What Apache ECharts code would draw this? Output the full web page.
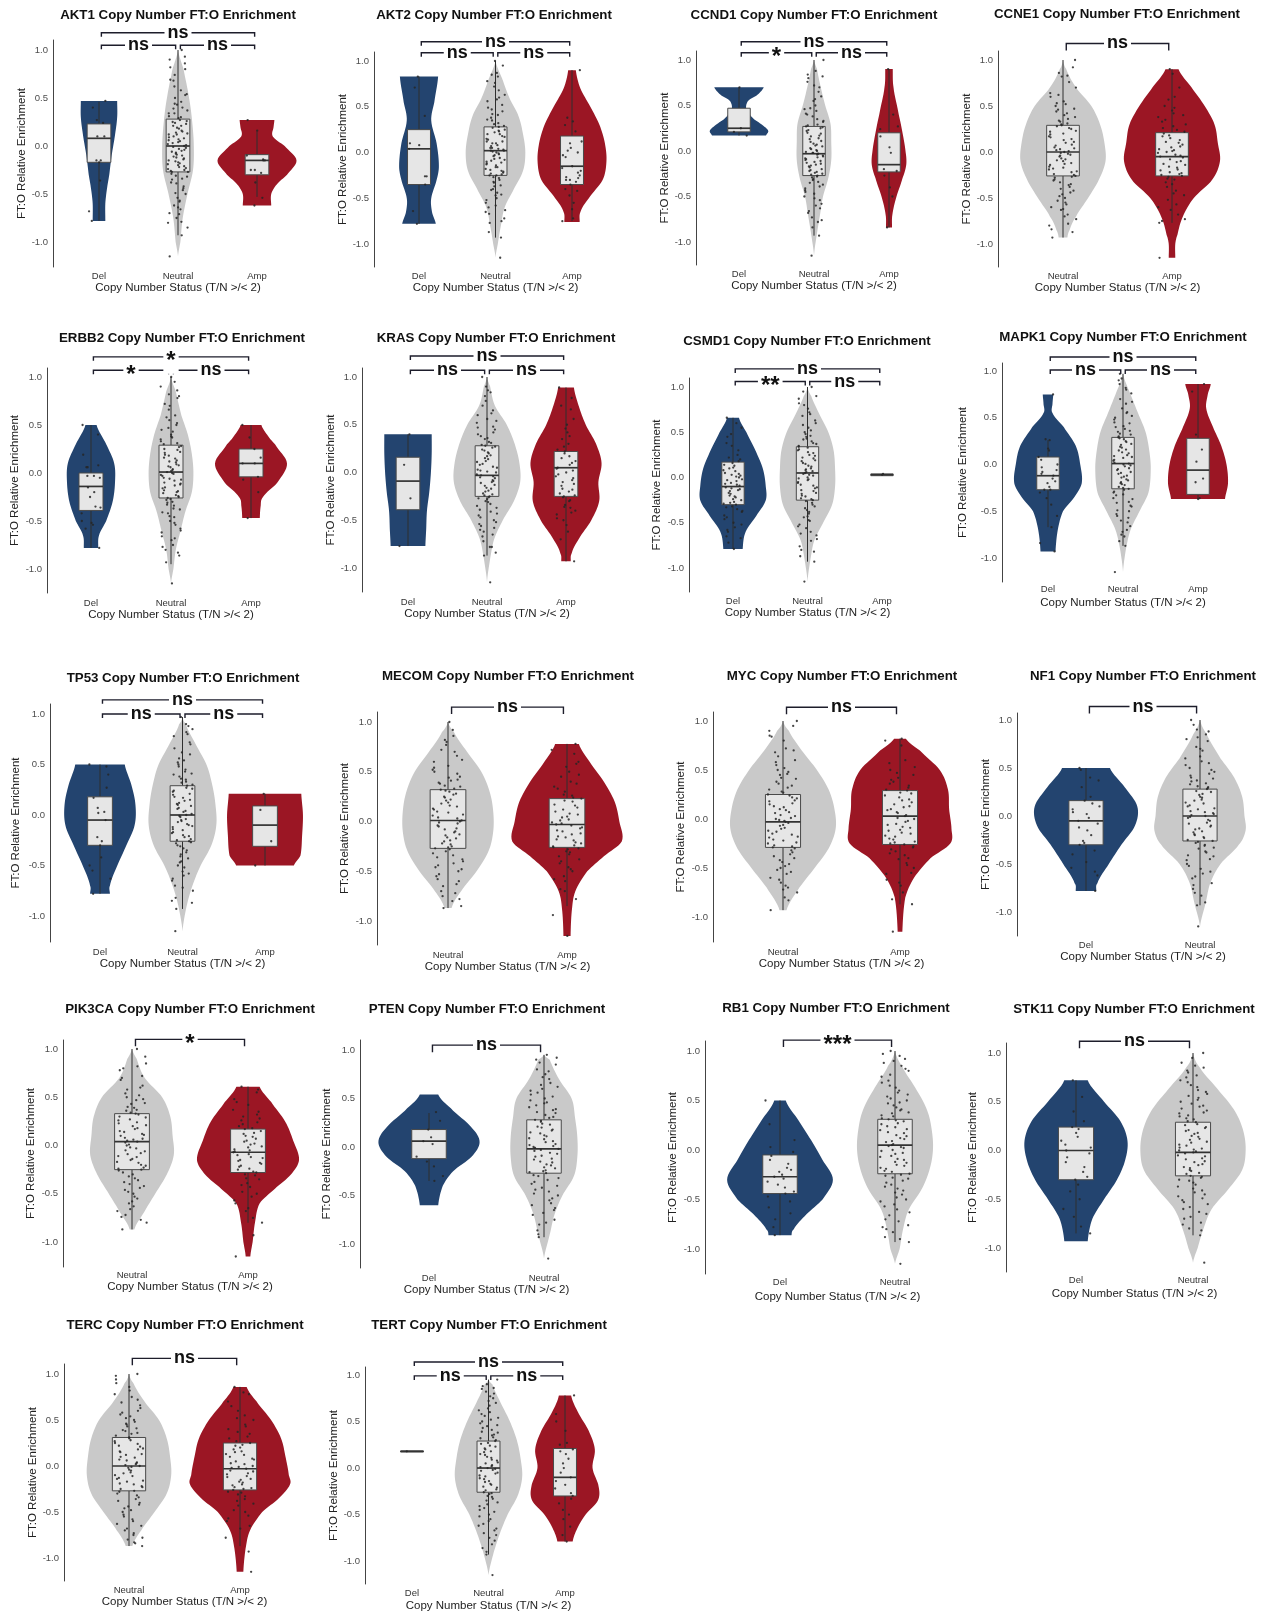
<!DOCTYPE html>
<html>
<head>
<meta charset="utf-8">
<title>FT:O Enrichment by Copy Number Status</title>
<script src="https://cdn.jsdelivr.net/npm/echarts@6/dist/echarts.min.js"></script>
<style>
html, body { margin: 0; padding: 0; background: #ffffff; }
#chart { width: 1267px; height: 1613px; }
</style>
</head>
<body>
<div id="chart"></div>
<script>
// ---------- data: groups, box stats [low, q1, median, q3, high], violin profiles [y, half-width], points, significance ----------
const akt1Groups = ['Del', 'Neutral', 'Amp'];
const akt1Box = [[-0.78, -0.17, 0.08, 0.23, 0.46], [-0.93, -0.27, 0.0, 0.28, 1.0], [-0.53, -0.3, -0.15, -0.09, 0.15]];
const akt1Violin = [
  [[-0.78, 0.08], [-0.6, 0.08], [-0.45, 0.1], [-0.3, 0.13], [-0.1, 0.16], [0.1, 0.2], [0.3, 0.23], [0.47, 0.23]],
  [[-1.15, 0], [-1.0, 0.03], [-0.75, 0.06], [-0.5, 0.12], [-0.25, 0.19], [0, 0.2], [0.25, 0.18], [0.5, 0.14], [0.8, 0.07], [1.0, 0]],
  [[-0.62, 0.18], [-0.5, 0.18], [-0.4, 0.25], [-0.3, 0.38], [-0.15, 0.5], [0.0, 0.35], [0.1, 0.2], [0.2, 0.21], [0.27, 0.22]]
];
const akt1Points = [
  [0.47, 0.4, 0.27, 0.24, 0.1, 0.1, -0.15, -0.15, -0.17, -0.36, -0.68, -0.78],
  [1.0, 0.9, 0.86, 0.82, 0.8, 0.74, 0.68, 0.62, 0.58, 0.54, 0.5, 0.46, 0.43, 0.4, 0.37, 0.34, 0.31, 0.29, 0.27, 0.25, 0.23, 0.21, 0.18, 0.16, 0.14, 0.12, 0.1, 0.08, 0.06, 0.04, 0.02, 0.0, -0.02, -0.04, -0.06, -0.08, -0.1, -0.12, -0.14, -0.16, -0.18, -0.2, -0.22, -0.24, -0.26, -0.27, -0.29, -0.32, -0.35, -0.38, -0.42, -0.46, -0.5, -0.54, -0.58, -0.62, -0.66, -0.7, -0.75, -0.79, -0.85, -0.93, -1.15,
   0.93, 0.69, 0.53, 0.44, 0.39, 0.34, 0.3, 0.26, 0.24, 0.21, 0.19, 0.15, 0.13, 0.12, 0.09, 0.07, 0.05, 0.03, 0.01, -0.01, -0.03, -0.05, -0.07, -0.09, -0.11, -0.13, -0.15, -0.17, -0.19, -0.21, -0.23, -0.25, -0.27, -0.31, -0.34, -0.39, -0.44, -0.49, -0.57, -0.64, -0.71, -0.8],
  [0.27, 0.16, -0.1, -0.14, -0.15, -0.15, -0.25, -0.25, -0.28, -0.38, -0.54, -0.62]
];
const akt1Signif = [[0, 1, 1.05, 'ns'], [1, 2, 1.05, 'ns'], [0, 2, 1.18, 'ns']];

const akt2Groups = ['Del', 'Neutral', 'Amp'];
const akt2Box = [[-0.78, -0.35, 0.04, 0.25, 0.83], [-0.93, -0.25, 0.02, 0.28, 1.0], [-0.75, -0.35, -0.15, 0.18, 0.9]];
const akt2Violin = [
  [[-0.78, 0.22], [-0.65, 0.17], [-0.5, 0.16], [-0.3, 0.23], [-0.15, 0.26], [0.1, 0.23], [0.35, 0.16], [0.55, 0.2], [0.83, 0.25]],
  [[-1.15, 0], [-1.0, 0.03], [-0.8, 0.07], [-0.6, 0.12], [-0.4, 0.24], [-0.2, 0.36], [0, 0.39], [0.2, 0.36], [0.4, 0.3], [0.6, 0.18], [0.8, 0.09], [1.0, 0]],
  [[-0.76, 0.1], [-0.65, 0.11], [-0.5, 0.22], [-0.3, 0.4], [-0.1, 0.45], [0.1, 0.43], [0.3, 0.36], [0.5, 0.24], [0.7, 0.11], [0.9, 0.05]]
];
const akt2Points = [
  [0.83, 0.71, 0.4, 0.1, 0.08, 0.04, -0.26, -0.26, -0.35, -0.64, -0.78],
  [1.0, 0.87, 0.85, 0.83, 0.78, 0.72, 0.68, 0.63, 0.6, 0.56, 0.52, 0.49, 0.45, 0.42, 0.38, 0.35, 0.32, 0.29, 0.27, 0.24, 0.22, 0.2, 0.17, 0.15, 0.12, 0.1, 0.08, 0.05, 0.03, 0.02, 0.0, -0.02, -0.04, -0.07, -0.09, -0.11, -0.13, -0.16, -0.18, -0.2, -0.22, -0.24, -0.25, -0.27, -0.3, -0.33, -0.36, -0.4, -0.44, -0.47, -0.5, -0.55, -0.6, -0.63, -0.67, -0.72, -0.77, -0.87, -0.93, -1.15,
   0.95, 0.76, 0.58, 0.47, 0.41, 0.36, 0.31, 0.28, 0.25, 0.23, 0.2, 0.18, 0.14, 0.12, 0.1, 0.07, 0.05, 0.04, 0.02, 0.01, -0.01, -0.03, -0.06, -0.08, -0.1, -0.12, -0.14, -0.16, -0.19, -0.21, -0.23, -0.25, -0.28, -0.32, -0.37, -0.41, -0.46, -0.52, -0.58, -0.65, -0.75],
  [0.9, 0.38, 0.34, 0.23, 0.1, 0.05, 0.02, 0.0, -0.03, -0.15, -0.17, -0.22, -0.25, -0.28, -0.3, -0.3, -0.32, -0.35, -0.42, -0.47, -0.55, -0.62, -0.72, -0.75, 0.3, 0.12, -0.05, -0.2, -0.27, -0.4]
];
const akt2Signif = [[0, 1, 1.09, 'ns'], [1, 2, 1.09, 'ns'], [0, 2, 1.21, 'ns']];

const ccnd1Groups = ['Del', 'Neutral', 'Amp'];
const ccnd1Box = [[0.17, 0.21, 0.25, 0.47, 0.7], [-0.93, -0.27, -0.03, 0.27, 1.0], [-0.84, -0.23, -0.15, 0.2, 0.9]];
const ccnd1Violin = [
  [[0.17, 0.36], [0.22, 0.39], [0.28, 0.32], [0.35, 0.2], [0.45, 0.1], [0.55, 0.12], [0.62, 0.25], [0.7, 0.33]],
  [[-1.15, 0], [-0.9, 0.04], [-0.7, 0.08], [-0.5, 0.12], [-0.3, 0.19], [-0.1, 0.23], [0.1, 0.23], [0.3, 0.22], [0.5, 0.15], [0.7, 0.09], [0.9, 0.04], [1.0, 0]],
  [[-0.84, 0.04], [-0.7, 0.045], [-0.5, 0.1], [-0.3, 0.18], [-0.15, 0.23], [0.0, 0.22], [0.2, 0.18], [0.4, 0.13], [0.7, 0.06], [0.9, 0.05]]
];
const ccnd1Points = [
  [0.7, 0.25, 0.21, 0.17],
  [1.0, 0.84, 0.82, 0.8, 0.76, 0.7, 0.65, 0.6, 0.55, 0.5, 0.47, 0.44, 0.41, 0.38, 0.35, 0.32, 0.29, 0.27, 0.25, 0.22, 0.19, 0.16, 0.13, 0.1, 0.07, 0.05, 0.02, 0.0, -0.02, -0.03, -0.05, -0.08, -0.1, -0.12, -0.15, -0.17, -0.2, -0.22, -0.24, -0.27, -0.29, -0.32, -0.35, -0.39, -0.43, -0.47, -0.5, -0.54, -0.58, -0.63, -0.68, -0.73, -0.78, -0.84, -0.93, -1.15,
   0.88, 0.72, 0.57, 0.46, 0.4, 0.33, 0.28, 0.26, 0.23, 0.2, 0.17, 0.14, 0.11, 0.08, 0.06, 0.03, 0.01, -0.01, -0.02, -0.04, -0.06, -0.07, -0.09, -0.11, -0.13, -0.14, -0.16, -0.18, -0.21, -0.23, -0.25, -0.26, -0.28, -0.31, -0.34, -0.37, -0.41, -0.45, -0.52, -0.6, -0.66, -0.76],
  [0.9, 0.4, 0.27, 0.24, 0.16, 0.04, -0.02, -0.2, -0.22, -0.27, -0.4, -0.5, -0.84]
];
const ccnd1Signif = [[0, 1, 1.08, '*'], [1, 2, 1.08, 'ns'], [0, 2, 1.2, 'ns']];

const ccne1Groups = ['Neutral', 'Amp'];
const ccne1Box = [[-0.93, -0.26, 0.0, 0.29, 1.0], [-0.77, -0.26, -0.05, 0.21, 0.9]];
const ccne1Violin = [
  [[-0.93, 0.04], [-0.85, 0.06], [-0.7, 0.12], [-0.5, 0.23], [-0.3, 0.33], [-0.1, 0.39], [0.1, 0.38], [0.3, 0.34], [0.5, 0.26], [0.7, 0.12], [0.9, 0.03], [1.0, 0]],
  [[-1.15, 0.03], [-1.0, 0.03], [-0.9, 0.05], [-0.7, 0.1], [-0.5, 0.2], [-0.3, 0.37], [-0.1, 0.44], [0.1, 0.42], [0.3, 0.39], [0.5, 0.3], [0.7, 0.18], [0.9, 0.06]]
];
const ccne1Points = [
  [1.0, 0.86, 0.83, 0.82, 0.76, 0.7, 0.64, 0.6, 0.55, 0.52, 0.5, 0.47, 0.44, 0.4, 0.36, 0.33, 0.3, 0.28, 0.25, 0.22, 0.2, 0.17, 0.14, 0.11, 0.08, 0.05, 0.03, 0.01, -0.01, -0.03, -0.05, -0.08, -0.1, -0.13, -0.16, -0.18, -0.21, -0.24, -0.26, -0.28, -0.31, -0.35, -0.38, -0.42, -0.46, -0.5, -0.53, -0.57, -0.6, -0.63, -0.68, -0.73, -0.78, -0.84, -0.87, -0.93,
   0.92, 0.62, 0.53, 0.46, 0.42, 0.38, 0.34, 0.31, 0.29, 0.26, 0.23, 0.19, 0.16, 0.13, 0.1, 0.07, 0.04, 0.02, 0.0, -0.02, -0.04, -0.07, -0.09, -0.12, -0.14, -0.17, -0.19, -0.22, -0.25, -0.27, -0.3, -0.33, -0.36, -0.4, -0.44, -0.48, -0.55, -0.62, -0.7, -0.8],
  [0.9, 0.7, 0.57, 0.48, 0.45, 0.42, 0.38, 0.33, 0.3, 0.26, 0.22, 0.2, 0.17, 0.13, 0.1, 0.08, 0.05, 0.02, 0.0, -0.03, -0.05, -0.08, -0.11, -0.14, -0.17, -0.2, -0.23, -0.25, -0.26, -0.29, -0.33, -0.38, -0.42, -0.47, -0.52, -0.57, -0.63, -0.68, -0.73, -0.77, -1.15,
   0.85, 0.6, 0.5, 0.4, 0.35, 0.28, 0.24, 0.18, 0.15, 0.11, 0.06, 0.03, 0.01, -0.01, -0.04, -0.06, -0.1, -0.13, -0.16, -0.19, -0.22, -0.24, -0.27, -0.3, -0.35, -0.45, -0.6, -0.75]
];
const ccne1Signif = [[0, 1, 1.18, 'ns']];

const erbb2Groups = ['Del', 'Neutral', 'Amp'];
const erbb2Box = [[-0.78, -0.39, -0.14, 0.0, 0.5], [-0.95, -0.26, 0.01, 0.29, 1.0], [-0.47, -0.04, 0.1, 0.25, 0.5]];
const erbb2Violin = [
  [[-0.78, 0.09], [-0.65, 0.1], [-0.5, 0.19], [-0.3, 0.27], [-0.1, 0.3], [0.1, 0.29], [0.3, 0.19], [0.5, 0.07]],
  [[-1.15, 0], [-1.0, 0.03], [-0.8, 0.06], [-0.6, 0.12], [-0.4, 0.18], [-0.2, 0.26], [0, 0.28], [0.2, 0.26], [0.4, 0.21], [0.6, 0.13], [0.85, 0.06], [1.0, 0]],
  [[-0.47, 0.11], [-0.35, 0.12], [-0.25, 0.15], [-0.1, 0.33], [0.1, 0.45], [0.3, 0.3], [0.4, 0.2], [0.5, 0.13]]
];
const erbb2Points = [
  [0.5, 0.4, 0.19, 0.08, 0.06, 0.06, -0.03, -0.03, -0.05, -0.15, -0.2, -0.25, -0.35, -0.36, -0.42, -0.5, -0.52, -0.54, -0.58, -0.78],
  [1.0, 0.9, 0.86, 0.8, 0.78, 0.72, 0.66, 0.6, 0.55, 0.5, 0.47, 0.43, 0.4, 0.37, 0.33, 0.3, 0.28, 0.25, 0.22, 0.19, 0.16, 0.13, 0.11, 0.08, 0.06, 0.03, 0.01, -0.01, -0.03, -0.06, -0.08, -0.11, -0.13, -0.16, -0.19, -0.21, -0.24, -0.26, -0.28, -0.31, -0.34, -0.38, -0.42, -0.46, -0.5, -0.54, -0.58, -0.62, -0.66, -0.7, -0.75, -0.8, -0.86, -0.93, -1.15,
   0.95, 0.82, 0.7, 0.58, 0.52, 0.45, 0.38, 0.35, 0.31, 0.27, 0.24, 0.21, 0.18, 0.15, 0.12, 0.09, 0.07, 0.04, 0.02, 0.0, -0.02, -0.05, -0.07, -0.1, -0.12, -0.15, -0.18, -0.2, -0.23, -0.25, -0.27, -0.3, -0.33, -0.37, -0.41, -0.45, -0.52, -0.6, -0.68, -0.77, -0.83],
  [0.5, 0.37, 0.25, 0.16, 0.1, 0.1, -0.04, -0.07, -0.2, -0.47]
];
const erbb2Signif = [[0, 1, 1.07, '*'], [1, 2, 1.07, 'ns'], [0, 2, 1.21, '*']];

const krasGroups = ['Del', 'Neutral', 'Amp'];
const krasBox = [[-0.77, -0.39, -0.09, 0.16, 0.4], [-0.87, -0.25, -0.03, 0.28, 1.0], [-0.93, -0.25, 0.05, 0.22, 0.89]];
const krasViolin = [
  [[-0.77, 0.22], [-0.6, 0.23], [-0.4, 0.24], [-0.2, 0.27], [0.0, 0.29], [0.2, 0.3], [0.4, 0.3]],
  [[-1.15, 0], [-0.9, 0.04], [-0.7, 0.09], [-0.5, 0.2], [-0.3, 0.34], [-0.1, 0.42], [0.1, 0.41], [0.3, 0.35], [0.5, 0.25], [0.7, 0.1], [0.9, 0.04], [1.0, 0]],
  [[-0.93, 0.06], [-0.85, 0.07], [-0.7, 0.16], [-0.5, 0.32], [-0.3, 0.42], [-0.1, 0.41], [0.1, 0.45], [0.3, 0.38], [0.5, 0.25], [0.7, 0.16], [0.89, 0.1]]
];
const krasPoints = [
  [0.4, 0.08, -0.27, -0.77],
  [1.0, 0.86, 0.84, 0.8, 0.75, 0.7, 0.65, 0.6, 0.56, 0.52, 0.48, 0.45, 0.42, 0.38, 0.35, 0.31, 0.28, 0.26, 0.23, 0.2, 0.17, 0.14, 0.11, 0.08, 0.05, 0.02, 0.0, -0.03, -0.05, -0.08, -0.1, -0.13, -0.16, -0.19, -0.22, -0.25, -0.27, -0.3, -0.33, -0.37, -0.41, -0.45, -0.5, -0.54, -0.58, -0.62, -0.67, -0.72, -0.78, -0.84, -0.87, -1.15,
   0.9, 0.62, 0.54, 0.47, 0.4, 0.36, 0.32, 0.29, 0.27, 0.24, 0.21, 0.18, 0.15, 0.12, 0.09, 0.06, 0.03, 0.01, -0.02, -0.04, -0.06, -0.09, -0.11, -0.14, -0.17, -0.2, -0.23, -0.24, -0.26, -0.28, -0.31, -0.35, -0.39, -0.43, -0.47, -0.52, -0.56, -0.6, -0.65, -0.78],
  [0.89, 0.78, 0.66, 0.56, 0.46, 0.42, 0.35, 0.3, 0.24, 0.2, 0.17, 0.12, 0.08, 0.05, 0.02, -0.02, -0.06, -0.1, -0.14, -0.17, -0.2, -0.24, -0.26, -0.3, -0.34, -0.37, -0.4, -0.44, -0.48, -0.55, -0.62, -0.7, -0.93,
   0.7, 0.5, 0.38, 0.27, 0.22, 0.15, 0.1, 0.04, 0.0, -0.04, -0.08, -0.12, -0.18, -0.22, -0.25, -0.29, -0.36, -0.42, -0.5]
];
const krasSignif = [[0, 1, 1.07, 'ns'], [1, 2, 1.07, 'ns'], [0, 2, 1.22, 'ns']];

const csmd1Groups = ['Del', 'Neutral', 'Amp'];
const csmd1Box = [[-0.79, -0.3, -0.1, 0.17, 0.66], [-0.93, -0.25, 0.05, 0.34, 1.0], [0.02, 0.02, 0.03, 0.04, 0.04]];
const csmd1Violin = [
  [[-0.79, 0.13], [-0.6, 0.17], [-0.4, 0.33], [-0.25, 0.44], [-0.1, 0.44], [0.1, 0.4], [0.3, 0.3], [0.5, 0.18], [0.66, 0.08]],
  [[-1.15, 0], [-0.9, 0.04], [-0.7, 0.09], [-0.5, 0.21], [-0.3, 0.33], [-0.1, 0.37], [0.1, 0.37], [0.3, 0.35], [0.5, 0.28], [0.7, 0.16], [0.9, 0.05], [1.0, 0]],
  []
];
const csmd1Points = [
  [0.66, 0.55, 0.45, 0.38, 0.3, 0.25, 0.2, 0.16, 0.13, 0.1, 0.07, 0.05, 0.03, 0.01, -0.02, -0.04, -0.07, -0.09, -0.11, -0.13, -0.15, -0.17, -0.2, -0.22, -0.25, -0.28, -0.3, -0.32, -0.35, -0.38, -0.42, -0.46, -0.5, -0.55, -0.6, -0.67, -0.72, -0.79,
   0.6, 0.48, 0.35, 0.22, 0.18, 0.14, 0.11, 0.08, 0.04, 0.02, 0.0, -0.03, -0.06, -0.08, -0.12, -0.14, -0.18, -0.21, -0.24, -0.27, -0.29, -0.33, -0.37, -0.44, -0.52, -0.58, -0.65],
  [1.0, 0.9, 0.87, 0.82, 0.76, 0.72, 0.68, 0.63, 0.58, 0.55, 0.52, 0.48, 0.45, 0.42, 0.38, 0.35, 0.33, 0.3, 0.27, 0.24, 0.21, 0.18, 0.15, 0.12, 0.09, 0.07, 0.05, 0.03, 0.0, -0.02, -0.05, -0.08, -0.11, -0.14, -0.17, -0.2, -0.23, -0.25, -0.28, -0.32, -0.36, -0.4, -0.44, -0.48, -0.52, -0.56, -0.6, -0.64, -0.7, -0.76, -0.82, -0.87, -0.93, -1.15,
   0.95, 0.8, 0.7, 0.6, 0.5, 0.46, 0.43, 0.4, 0.37, 0.34, 0.31, 0.28, 0.25, 0.22, 0.19, 0.16, 0.13, 0.1, 0.08, 0.06, 0.04, 0.02, -0.01, -0.03, -0.06, -0.09, -0.12, -0.15, -0.18, -0.21, -0.24, -0.26, -0.3, -0.34, -0.38, -0.43, -0.47, -0.54, -0.62, -0.68, -0.8],
  [0.03, 0.04]
];
const csmd1Signif = [[0, 1, 1.06, '**'], [1, 2, 1.06, 'ns'], [0, 2, 1.2, 'ns']];

const mapk1Groups = ['Del', 'Neutral', 'Amp'];
const mapk1Box = [[-0.67, -0.27, -0.12, 0.08, 0.26], [-0.87, -0.26, 0.01, 0.29, 0.97], [-0.37, -0.32, -0.06, 0.28, 0.86]];
const mapk1Violin = [
  [[-0.93, 0.1], [-0.7, 0.13], [-0.5, 0.2], [-0.35, 0.35], [-0.2, 0.45], [0.0, 0.43], [0.2, 0.37], [0.4, 0.21], [0.55, 0.06], [0.65, 0.06], [0.75, 0.07]],
  [[-1.15, 0], [-0.9, 0.04], [-0.7, 0.1], [-0.5, 0.22], [-0.3, 0.34], [-0.05, 0.37], [0.15, 0.35], [0.35, 0.3], [0.55, 0.2], [0.75, 0.1], [0.97, 0]],
  [[-0.37, 0.36], [-0.2, 0.4], [0.0, 0.38], [0.2, 0.31], [0.4, 0.2], [0.6, 0.11], [0.75, 0.13], [0.86, 0.17]]
];
const mapk1Points = [
  [0.75, 0.27, 0.26, 0.17, 0.15, 0.08, 0.05, 0.0, -0.03, -0.06, -0.08, -0.1, -0.12, -0.15, -0.18, -0.2, -0.24, -0.27, -0.27, -0.3, -0.36, -0.43, -0.55, -0.67, -0.84, -0.93],
  [0.97, 0.9, 0.86, 0.82, 0.76, 0.7, 0.65, 0.6, 0.56, 0.52, 0.48, 0.45, 0.41, 0.38, 0.35, 0.32, 0.29, 0.27, 0.24, 0.21, 0.18, 0.15, 0.12, 0.09, 0.07, 0.04, 0.01, -0.01, -0.04, -0.06, -0.09, -0.12, -0.14, -0.17, -0.2, -0.22, -0.25, -0.27, -0.3, -0.33, -0.37, -0.41, -0.45, -0.49, -0.53, -0.57, -0.62, -0.66, -0.72, -0.77, -0.82, -0.87, -1.15,
   0.92, 0.8, 0.67, 0.55, 0.5, 0.44, 0.4, 0.36, 0.33, 0.3, 0.28, 0.25, 0.22, 0.19, 0.16, 0.13, 0.1, 0.08, 0.05, 0.02, 0.0, -0.02, -0.05, -0.08, -0.1, -0.13, -0.16, -0.19, -0.21, -0.24, -0.26, -0.29, -0.32, -0.36, -0.4, -0.44, -0.5, -0.55, -0.6, -0.7, -0.75],
  [0.86, 0.78, 0.32, 0.16, 0.03, -0.15, -0.19, -0.36, -0.37]
];
const mapk1Signif = [[0, 1, 1.01, 'ns'], [1, 2, 1.01, 'ns'], [0, 2, 1.15, 'ns']];

const tp53Groups = ['Del', 'Neutral', 'Amp'];
const tp53Box = [[-0.78, -0.3, -0.05, 0.18, 0.5], [-0.93, -0.26, 0.0, 0.29, 0.97], [-0.5, -0.31, -0.1, 0.09, 0.21]];
const tp53Violin = [
  [[-0.78, 0.12], [-0.7, 0.12], [-0.5, 0.21], [-0.3, 0.32], [-0.1, 0.42], [0.1, 0.43], [0.3, 0.38], [0.5, 0.3]],
  [[-1.15, 0], [-0.9, 0.05], [-0.7, 0.12], [-0.5, 0.22], [-0.3, 0.35], [-0.1, 0.41], [0.1, 0.4], [0.3, 0.36], [0.5, 0.29], [0.7, 0.16], [0.9, 0.04], [0.97, 0]],
  [[-0.5, 0.35], [-0.4, 0.43], [-0.2, 0.45], [0.0, 0.46], [0.21, 0.44]]
];
const tp53Points = [
  [0.5, 0.48, 0.4, 0.27, 0.17, 0.07, 0.03, 0.02, -0.05, -0.22, -0.26, -0.3, -0.42, -0.5, -0.55, -0.63, -0.78],
  [0.97, 0.9, 0.85, 0.82, 0.78, 0.72, 0.66, 0.6, 0.56, 0.52, 0.48, 0.45, 0.41, 0.38, 0.35, 0.32, 0.29, 0.26, 0.23, 0.2, 0.17, 0.14, 0.11, 0.09, 0.06, 0.03, 0.0, -0.02, -0.05, -0.07, -0.1, -0.12, -0.15, -0.18, -0.21, -0.24, -0.26, -0.28, -0.31, -0.35, -0.39, -0.43, -0.47, -0.52, -0.56, -0.6, -0.65, -0.7, -0.75, -0.82, -0.87, -0.93, -1.15,
   0.88, 0.8, 0.7, 0.62, 0.54, 0.5, 0.43, 0.4, 0.36, 0.33, 0.3, 0.27, 0.24, 0.21, 0.18, 0.15, 0.12, 0.1, 0.07, 0.04, 0.01, -0.01, -0.04, -0.06, -0.09, -0.11, -0.14, -0.17, -0.2, -0.22, -0.25, -0.27, -0.3, -0.33, -0.37, -0.41, -0.46, -0.5, -0.58, -0.63, -0.72, -0.85],
  [0.21, 0.05, -0.26, -0.5]
];
const tp53Signif = [[0, 1, 1.0, 'ns'], [1, 2, 1.0, 'ns'], [0, 2, 1.14, 'ns']];

const mecomGroups = ['Neutral', 'Amp'];
const mecomBox = [[-0.87, -0.27, 0.01, 0.32, 1.0], [-0.85, -0.26, -0.03, 0.23, 0.78]];
const mecomViolin = [
  [[-0.87, 0.03], [-0.7, 0.11], [-0.5, 0.24], [-0.3, 0.34], [-0.1, 0.38], [0.1, 0.38], [0.3, 0.35], [0.5, 0.28], [0.7, 0.16], [0.9, 0.05], [1.0, 0]],
  [[-1.15, 0.03], [-0.9, 0.04], [-0.7, 0.07], [-0.5, 0.17], [-0.35, 0.31], [-0.2, 0.46], [0.0, 0.44], [0.2, 0.4], [0.4, 0.31], [0.6, 0.19], [0.78, 0.1]]
];
const mecomPoints = [
  [1.0, 0.86, 0.82, 0.77, 0.72, 0.66, 0.6, 0.56, 0.52, 0.48, 0.45, 0.42, 0.39, 0.36, 0.33, 0.31, 0.28, 0.25, 0.22, 0.19, 0.16, 0.13, 0.1, 0.07, 0.04, 0.01, -0.01, -0.04, -0.07, -0.1, -0.13, -0.16, -0.19, -0.22, -0.25, -0.27, -0.3, -0.34, -0.38, -0.42, -0.46, -0.5, -0.55, -0.6, -0.65, -0.7, -0.75, -0.8, -0.85, -0.87,
   0.92, 0.8, 0.7, 0.62, 0.54, 0.5, 0.44, 0.41, 0.38, 0.35, 0.32, 0.3, 0.27, 0.24, 0.21, 0.18, 0.15, 0.12, 0.09, 0.06, 0.03, 0.0, -0.02, -0.05, -0.08, -0.11, -0.14, -0.17, -0.2, -0.23, -0.26, -0.28, -0.32, -0.36, -0.4, -0.44, -0.48, -0.53, -0.58, -0.63, -0.72, -0.78],
  [0.78, 0.68, 0.6, 0.55, 0.5, 0.45, 0.4, 0.35, 0.3, 0.26, 0.23, 0.2, 0.17, 0.14, 0.1, 0.07, 0.04, 0.01, -0.02, -0.04, -0.07, -0.1, -0.13, -0.16, -0.19, -0.22, -0.25, -0.26, -0.28, -0.31, -0.35, -0.38, -0.42, -0.46, -0.5, -0.55, -0.6, -0.68, -0.78, -0.94, -1.15,
   0.72, 0.58, 0.47, 0.38, 0.33, 0.27, 0.24, 0.21, 0.16, 0.12, 0.08, 0.05, 0.02, -0.01, -0.03, -0.06, -0.09, -0.12, -0.15, -0.18, -0.21, -0.24, -0.27, -0.3, -0.33, -0.4, -0.48, -0.58, -0.7]
];
const mecomSignif = [[0, 1, 1.15, 'ns']];

const mycGroups = ['Neutral', 'Amp'];
const mycBox = [[-0.93, -0.29, -0.03, 0.25, 1.0], [-0.87, -0.26, 0.03, 0.29, 0.82]];
const mycViolin = [
  [[-0.93, 0.03], [-0.7, 0.14], [-0.5, 0.27], [-0.3, 0.39], [-0.1, 0.45], [0.1, 0.44], [0.3, 0.39], [0.5, 0.29], [0.7, 0.16], [0.9, 0.05], [1.0, 0]],
  [[-1.15, 0.02], [-0.8, 0.045], [-0.6, 0.12], [-0.4, 0.26], [-0.25, 0.43], [-0.1, 0.44], [0.1, 0.42], [0.3, 0.41], [0.5, 0.34], [0.7, 0.17], [0.82, 0.05]]
];
const mycPoints = [
  [1.0, 0.9, 0.85, 0.8, 0.72, 0.68, 0.6, 0.58, 0.52, 0.48, 0.45, 0.42, 0.38, 0.34, 0.3, 0.27, 0.25, 0.22, 0.19, 0.16, 0.13, 0.1, 0.07, 0.04, 0.01, -0.01, -0.03, -0.06, -0.09, -0.12, -0.15, -0.18, -0.21, -0.24, -0.27, -0.29, -0.32, -0.36, -0.4, -0.44, -0.48, -0.52, -0.56, -0.6, -0.65, -0.7, -0.75, -0.83, -0.93,
   0.95, 0.84, 0.7, 0.64, 0.55, 0.5, 0.46, 0.41, 0.36, 0.32, 0.28, 0.24, 0.21, 0.18, 0.15, 0.12, 0.09, 0.06, 0.03, 0.0, -0.02, -0.04, -0.07, -0.1, -0.13, -0.16, -0.19, -0.22, -0.25, -0.28, -0.3, -0.34, -0.38, -0.42, -0.46, -0.5, -0.54, -0.62, -0.68, -0.72, -0.8],
  [0.82, 0.8, 0.57, 0.53, 0.5, 0.45, 0.4, 0.36, 0.32, 0.29, 0.26, 0.22, 0.19, 0.15, 0.12, 0.09, 0.06, 0.03, 0.0, -0.03, -0.06, -0.09, -0.12, -0.15, -0.18, -0.21, -0.24, -0.26, -0.29, -0.33, -0.37, -0.41, -0.45, -0.5, -0.56, -0.62, -0.68, -0.75, -0.82, -0.87, -1.15,
   0.75, 0.6, 0.47, 0.42, 0.38, 0.34, 0.3, 0.27, 0.24, 0.2, 0.17, 0.13, 0.1, 0.07, 0.04, 0.01, -0.02, -0.05, -0.08, -0.11, -0.14, -0.17, -0.2, -0.23, -0.25, -0.28, -0.31, -0.35, -0.4, -0.47, -0.55, -0.65]
];
const mycSignif = [[0, 1, 1.14, 'ns']];

const nf1Groups = ['Del', 'Neutral'];
const nf1Box = [[-0.78, -0.3, -0.05, 0.16, 0.5], [-0.93, -0.26, 0.0, 0.28, 1.0]];
const nf1Violin = [
  [[-0.78, 0.09], [-0.7, 0.1], [-0.5, 0.2], [-0.3, 0.31], [-0.1, 0.43], [0.1, 0.45], [0.3, 0.34], [0.5, 0.21]],
  [[-1.15, 0], [-0.9, 0.05], [-0.7, 0.09], [-0.5, 0.18], [-0.3, 0.34], [-0.15, 0.4], [0.0, 0.39], [0.2, 0.37], [0.4, 0.3], [0.6, 0.18], [0.85, 0.06], [1.0, 0]]
];
const nf1Points = [
  [0.5, 0.48, 0.4, 0.37, 0.3, 0.2, 0.16, 0.13, 0.1, 0.07, 0.04, 0.02, -0.02, -0.05, -0.08, -0.12, -0.15, -0.2, -0.26, -0.28, -0.3, -0.36, -0.4, -0.48, -0.54, -0.58, -0.62, -0.78],
  [1.0, 0.9, 0.85, 0.82, 0.78, 0.72, 0.68, 0.62, 0.57, 0.53, 0.5, 0.46, 0.42, 0.39, 0.36, 0.33, 0.3, 0.28, 0.25, 0.22, 0.19, 0.16, 0.13, 0.1, 0.07, 0.04, 0.02, 0.0, -0.02, -0.05, -0.08, -0.11, -0.14, -0.17, -0.2, -0.23, -0.26, -0.28, -0.31, -0.34, -0.38, -0.42, -0.46, -0.5, -0.55, -0.6, -0.65, -0.7, -0.76, -0.83, -0.9, -0.93, -1.15,
   0.95, 0.88, 0.8, 0.7, 0.6, 0.55, 0.48, 0.44, 0.4, 0.37, 0.34, 0.31, 0.29, 0.26, 0.23, 0.2, 0.17, 0.14, 0.11, 0.08, 0.05, 0.03, 0.01, -0.01, -0.04, -0.07, -0.1, -0.13, -0.16, -0.19, -0.22, -0.25, -0.27, -0.3, -0.33, -0.37, -0.41, -0.45, -0.52, -0.58, -0.63, -0.72, -0.8]
];
const nf1Signif = [[0, 1, 1.14, 'ns']];

const pik3caGroups = ['Neutral', 'Amp'];
const pik3caBox = [[-0.87, -0.25, 0.04, 0.33, 1.0], [-0.8, -0.28, -0.07, 0.17, 0.61]];
const pik3caViolin = [
  [[-0.87, 0.02], [-0.7, 0.1], [-0.5, 0.2], [-0.3, 0.3], [-0.1, 0.36], [0.1, 0.35], [0.3, 0.33], [0.5, 0.26], [0.7, 0.11], [0.9, 0.04], [1.0, 0]],
  [[-1.15, 0.02], [-1.0, 0.04], [-0.8, 0.06], [-0.6, 0.1], [-0.45, 0.23], [-0.3, 0.37], [-0.15, 0.44], [0.05, 0.39], [0.25, 0.32], [0.45, 0.2], [0.61, 0.1]]
];
const pik3caPoints = [
  [1.0, 0.85, 0.82, 0.78, 0.72, 0.68, 0.62, 0.58, 0.54, 0.5, 0.47, 0.44, 0.4, 0.37, 0.34, 0.32, 0.29, 0.26, 0.23, 0.2, 0.17, 0.14, 0.11, 0.08, 0.06, 0.04, 0.01, -0.02, -0.05, -0.08, -0.11, -0.14, -0.17, -0.2, -0.23, -0.25, -0.28, -0.32, -0.36, -0.4, -0.44, -0.48, -0.53, -0.58, -0.63, -0.68, -0.74, -0.8, -0.87,
   0.92, 0.8, 0.7, 0.6, 0.52, 0.48, 0.43, 0.39, 0.36, 0.33, 0.3, 0.27, 0.24, 0.21, 0.18, 0.15, 0.12, 0.1, 0.07, 0.05, 0.03, 0.0, -0.03, -0.06, -0.09, -0.12, -0.15, -0.18, -0.21, -0.24, -0.26, -0.3, -0.34, -0.38, -0.42, -0.46, -0.5, -0.55, -0.6, -0.66, -0.72, -0.77],
  [0.61, 0.55, 0.48, 0.42, 0.37, 0.32, 0.28, 0.24, 0.2, 0.17, 0.13, 0.1, 0.07, 0.04, 0.01, -0.02, -0.05, -0.07, -0.1, -0.13, -0.16, -0.19, -0.22, -0.25, -0.28, -0.31, -0.35, -0.39, -0.43, -0.48, -0.53, -0.6, -0.68, -0.75, -0.8, -0.93, -1.15,
   0.58, 0.45, 0.35, 0.3, 0.26, 0.22, 0.18, 0.15, 0.12, 0.09, 0.05, 0.02, -0.01, -0.04, -0.06, -0.09, -0.12, -0.15, -0.18, -0.21, -0.24, -0.27, -0.3, -0.34, -0.41, -0.5, -0.57, -0.65]
];
const pik3caSignif = [[0, 1, 1.1, '*']];

const ptenGroups = ['Del', 'Neutral'];
const ptenBox = [[-0.35, -0.12, 0.06, 0.18, 0.35], [-0.93, -0.27, -0.02, 0.28, 0.95]];
const ptenViolin = [
  [[-0.6, 0.08], [-0.4, 0.12], [-0.25, 0.21], [-0.1, 0.37], [0.05, 0.44], [0.2, 0.37], [0.4, 0.19], [0.54, 0.08]],
  [[-1.15, 0], [-0.9, 0.05], [-0.7, 0.09], [-0.5, 0.16], [-0.3, 0.26], [-0.1, 0.29], [0.1, 0.29], [0.3, 0.27], [0.5, 0.24], [0.7, 0.13], [0.9, 0.05], [0.95, 0]]
];
const ptenPoints = [
  [0.36, 0.27, 0.18, 0.1, 0.06, 0.03, -0.1, -0.15, -0.2, -0.3, -0.35],
  [0.95, 0.9, 0.85, 0.8, 0.75, 0.7, 0.64, 0.6, 0.56, 0.52, 0.48, 0.45, 0.41, 0.38, 0.35, 0.31, 0.28, 0.26, 0.23, 0.2, 0.17, 0.14, 0.11, 0.08, 0.05, 0.02, 0.0, -0.02, -0.04, -0.07, -0.1, -0.13, -0.16, -0.19, -0.22, -0.25, -0.27, -0.3, -0.34, -0.38, -0.42, -0.46, -0.5, -0.55, -0.6, -0.65, -0.7, -0.75, -0.8, -0.86, -0.93, -1.15,
   0.92, 0.87, 0.78, 0.72, 0.66, 0.62, 0.58, 0.54, 0.5, 0.46, 0.43, 0.39, 0.36, 0.33, 0.3, 0.27, 0.24, 0.21, 0.18, 0.15, 0.12, 0.09, 0.06, 0.03, 0.01, -0.01, -0.03, -0.06, -0.09, -0.12, -0.15, -0.18, -0.21, -0.24, -0.26, -0.29, -0.32, -0.36, -0.4, -0.44, -0.48, -0.53, -0.58, -0.63, -0.68, -0.78, -0.9]
];
const ptenSignif = [[0, 1, 1.05, 'ns']];

const rb1Groups = ['Del', 'Neutral'];
const rb1Box = [[-0.86, -0.44, -0.27, -0.05, 0.5], [-0.93, -0.24, 0.05, 0.31, 1.0]];
const rb1Violin = [
  [[-0.86, 0.1], [-0.8, 0.12], [-0.65, 0.23], [-0.5, 0.37], [-0.3, 0.46], [-0.1, 0.37], [0.1, 0.27], [0.3, 0.16], [0.5, 0.05]],
  [[-1.15, 0], [-1.0, 0.04], [-0.8, 0.07], [-0.6, 0.12], [-0.4, 0.23], [-0.2, 0.3], [0.0, 0.33], [0.2, 0.32], [0.4, 0.28], [0.6, 0.19], [0.85, 0.06], [1.0, 0]]
];
const rb1Points = [
  [0.5, 0.26, 0.1, 0.03, -0.02, -0.06, -0.1, -0.14, -0.18, -0.2, -0.22, -0.25, -0.27, -0.29, -0.32, -0.35, -0.38, -0.42, -0.44, -0.47, -0.52, -0.58, -0.64, -0.7, -0.78, -0.86],
  [1.0, 0.95, 0.9, 0.85, 0.8, 0.74, 0.68, 0.63, 0.58, 0.54, 0.5, 0.47, 0.43, 0.4, 0.37, 0.34, 0.31, 0.29, 0.26, 0.23, 0.2, 0.17, 0.14, 0.11, 0.08, 0.05, 0.03, 0.0, -0.03, -0.06, -0.09, -0.12, -0.15, -0.18, -0.21, -0.24, -0.26, -0.29, -0.33, -0.37, -0.41, -0.45, -0.5, -0.55, -0.6, -0.66, -0.72, -0.78, -0.83, -0.9, -0.93, -1.15,
   0.97, 0.92, 0.88, 0.82, 0.76, 0.7, 0.65, 0.6, 0.56, 0.52, 0.48, 0.45, 0.41, 0.38, 0.35, 0.32, 0.3, 0.27, 0.24, 0.21, 0.18, 0.15, 0.12, 0.09, 0.06, 0.04, 0.02, -0.01, -0.04, -0.07, -0.1, -0.13, -0.16, -0.19, -0.22, -0.25, -0.28, -0.31, -0.35, -0.39, -0.43, -0.48, -0.52, -0.57, -0.63, -0.7, -0.76, -0.8, -0.88]
];
const rb1Signif = [[0, 1, 1.11, '***']];

const stk11Groups = ['Del', 'Neutral'];
const stk11Box = [[-0.85, -0.3, 0.0, 0.24, 0.72], [-0.87, -0.26, -0.02, 0.29, 1.0]];
const stk11Violin = [
  [[-0.93, 0.1], [-0.7, 0.14], [-0.5, 0.24], [-0.3, 0.35], [-0.1, 0.42], [0.1, 0.44], [0.3, 0.38], [0.5, 0.24], [0.72, 0.1]],
  [[-1.15, 0], [-1.0, 0.04], [-0.8, 0.09], [-0.6, 0.16], [-0.4, 0.3], [-0.2, 0.42], [0.0, 0.45], [0.2, 0.43], [0.4, 0.36], [0.6, 0.23], [0.85, 0.06], [1.0, 0]]
];
const stk11Points = [
  [0.72, 0.55, 0.4, 0.3, 0.24, 0.22, 0.18, 0.14, 0.1, 0.06, 0.03, 0.0, -0.03, -0.07, -0.12, -0.17, -0.22, -0.27, -0.3, -0.35, -0.42, -0.5, -0.6, -0.68, -0.78, -0.85],
  [1.0, 0.9, 0.85, 0.8, 0.75, 0.7, 0.65, 0.6, 0.56, 0.52, 0.48, 0.45, 0.41, 0.38, 0.35, 0.32, 0.29, 0.26, 0.23, 0.2, 0.17, 0.14, 0.11, 0.08, 0.05, 0.02, 0.0, -0.02, -0.05, -0.08, -0.11, -0.14, -0.17, -0.2, -0.23, -0.26, -0.28, -0.31, -0.35, -0.39, -0.43, -0.47, -0.51, -0.55, -0.6, -0.65, -0.7, -0.76, -0.82, -0.87, -1.15,
   0.95, 0.87, 0.82, 0.77, 0.72, 0.67, 0.62, 0.58, 0.54, 0.5, 0.46, 0.43, 0.39, 0.36, 0.33, 0.3, 0.27, 0.24, 0.21, 0.18, 0.15, 0.12, 0.09, 0.06, 0.03, 0.01, -0.01, -0.03, -0.06, -0.09, -0.12, -0.15, -0.18, -0.21, -0.24, -0.27, -0.3, -0.33, -0.37, -0.41, -0.45, -0.49, -0.53, -0.58, -0.63, -0.68, -0.74, -0.8]
];
const stk11Signif = [[0, 1, 1.12, 'ns']];

const tercGroups = ['Neutral', 'Amp'];
const tercBox = [[-0.87, -0.27, 0.0, 0.31, 1.0], [-0.87, -0.26, -0.03, 0.25, 0.86]];
const tercViolin = [
  [[-0.87, 0.03], [-0.7, 0.11], [-0.5, 0.23], [-0.3, 0.34], [-0.1, 0.38], [0.1, 0.37], [0.3, 0.34], [0.5, 0.27], [0.7, 0.14], [0.9, 0.04], [1.0, 0]],
  [[-1.15, 0.03], [-0.9, 0.05], [-0.7, 0.09], [-0.5, 0.2], [-0.35, 0.35], [-0.2, 0.45], [-0.1, 0.44], [0.1, 0.41], [0.3, 0.37], [0.5, 0.28], [0.7, 0.15], [0.86, 0.06]]
];
const tercPoints = [
  [1.0, 0.98, 0.86, 0.78, 0.72, 0.66, 0.6, 0.56, 0.52, 0.48, 0.45, 0.41, 0.38, 0.35, 0.31, 0.28, 0.25, 0.22, 0.19, 0.16, 0.13, 0.1, 0.07, 0.04, 0.02, 0.0, -0.02, -0.05, -0.08, -0.11, -0.14, -0.17, -0.2, -0.23, -0.27, -0.3, -0.34, -0.38, -0.42, -0.46, -0.5, -0.55, -0.6, -0.65, -0.7, -0.75, -0.8, -0.84, -0.87,
   0.94, 0.9, 0.82, 0.75, 0.69, 0.63, 0.58, 0.54, 0.5, 0.46, 0.43, 0.39, 0.36, 0.33, 0.3, 0.27, 0.24, 0.21, 0.18, 0.15, 0.12, 0.09, 0.06, 0.03, 0.01, -0.01, -0.04, -0.07, -0.1, -0.13, -0.16, -0.19, -0.22, -0.25, -0.28, -0.32, -0.36, -0.4, -0.44, -0.48, -0.53, -0.58, -0.63, -0.68, -0.73, -0.78, -0.83],
  [0.86, 0.8, 0.7, 0.6, 0.55, 0.5, 0.45, 0.4, 0.35, 0.3, 0.25, 0.22, 0.18, 0.15, 0.12, 0.08, 0.05, 0.02, -0.01, -0.03, -0.06, -0.09, -0.12, -0.15, -0.18, -0.21, -0.24, -0.26, -0.29, -0.33, -0.38, -0.43, -0.48, -0.54, -0.6, -0.68, -0.78, -0.93, -1.15,
   0.78, 0.65, 0.52, 0.43, 0.37, 0.32, 0.27, 0.23, 0.2, 0.16, 0.13, 0.1, 0.07, 0.03, 0.0, -0.02, -0.05, -0.08, -0.11, -0.14, -0.17, -0.2, -0.23, -0.25, -0.28, -0.31, -0.36, -0.41, -0.5, -0.57, -0.65]
];
const tercSignif = [[0, 1, 1.17, 'ns']];

const tertGroups = ['Del', 'Neutral', 'Amp'];
const tertBox = [[0.18, 0.177, 0.18, 0.183, 0.18], [-0.93, -0.26, 0.0, 0.29, 0.95], [-0.79, -0.3, -0.1, 0.21, 0.78]];
const tertViolin = [
  [],
  [[-1.15, 0], [-0.9, 0.07], [-0.7, 0.15], [-0.5, 0.25], [-0.3, 0.38], [-0.1, 0.44], [0.1, 0.42], [0.3, 0.37], [0.5, 0.28], [0.7, 0.16], [0.9, 0.05], [0.95, 0]],
  [[-0.79, 0.1], [-0.65, 0.16], [-0.5, 0.27], [-0.35, 0.43], [-0.2, 0.44], [0.0, 0.36], [0.2, 0.39], [0.4, 0.31], [0.6, 0.17], [0.78, 0.08]]
];
const tertPoints = [
  [0.18],
  [0.95, 0.88, 0.85, 0.8, 0.75, 0.7, 0.64, 0.6, 0.56, 0.52, 0.48, 0.45, 0.41, 0.38, 0.35, 0.32, 0.29, 0.26, 0.23, 0.2, 0.17, 0.14, 0.11, 0.08, 0.05, 0.02, 0.0, -0.02, -0.05, -0.08, -0.11, -0.14, -0.17, -0.2, -0.23, -0.26, -0.28, -0.31, -0.35, -0.39, -0.43, -0.47, -0.52, -0.57, -0.62, -0.67, -0.72, -0.78, -0.86, -0.93, -1.15,
   0.9, 0.86, 0.82, 0.77, 0.72, 0.67, 0.62, 0.58, 0.54, 0.5, 0.46, 0.43, 0.39, 0.36, 0.33, 0.3, 0.27, 0.24, 0.21, 0.18, 0.15, 0.12, 0.09, 0.06, 0.03, 0.01, -0.01, -0.03, -0.06, -0.09, -0.12, -0.15, -0.18, -0.21, -0.24, -0.27, -0.3, -0.33, -0.37, -0.41, -0.45, -0.5, -0.55, -0.6, -0.65, -0.7, -0.75, -0.82, -0.9],
  [0.78, 0.58, 0.5, 0.4, 0.27, 0.25, 0.2, 0.18, 0.15, 0.1, 0.05, 0.0, -0.05, -0.1, -0.14, -0.18, -0.22, -0.27, -0.3, -0.33, -0.38, -0.45, -0.5, -0.55, -0.63, -0.72, -0.79]
];
const tertSignif = [[0, 1, 0.99, 'ns'], [1, 2, 0.99, 'ns'], [0, 2, 1.14, 'ns']];

const TICK_VALUES = [-1, -0.5, 0, 0.5, 1];
const X_TITLE = 'Copy Number Status (T/N >/< 2)';
const Y_TITLE = 'FT:O Relative Enrichment';

// ---------- panels ----------
const PANELS = [
  { gene: 'AKT1', groups: akt1Groups, box: akt1Box, violin: akt1Violin, points: akt1Points, signif: akt1Signif },
  { gene: 'AKT2', groups: akt2Groups, box: akt2Box, violin: akt2Violin, points: akt2Points, signif: akt2Signif },
  { gene: 'CCND1', groups: ccnd1Groups, box: ccnd1Box, violin: ccnd1Violin, points: ccnd1Points, signif: ccnd1Signif },
  { gene: 'CCNE1', groups: ccne1Groups, box: ccne1Box, violin: ccne1Violin, points: ccne1Points, signif: ccne1Signif },
  { gene: 'ERBB2', groups: erbb2Groups, box: erbb2Box, violin: erbb2Violin, points: erbb2Points, signif: erbb2Signif },
  { gene: 'KRAS', groups: krasGroups, box: krasBox, violin: krasViolin, points: krasPoints, signif: krasSignif },
  { gene: 'CSMD1', groups: csmd1Groups, box: csmd1Box, violin: csmd1Violin, points: csmd1Points, signif: csmd1Signif },
  { gene: 'MAPK1', groups: mapk1Groups, box: mapk1Box, violin: mapk1Violin, points: mapk1Points, signif: mapk1Signif },
  { gene: 'TP53', groups: tp53Groups, box: tp53Box, violin: tp53Violin, points: tp53Points, signif: tp53Signif },
  { gene: 'MECOM', groups: mecomGroups, box: mecomBox, violin: mecomViolin, points: mecomPoints, signif: mecomSignif },
  { gene: 'MYC', groups: mycGroups, box: mycBox, violin: mycViolin, points: mycPoints, signif: mycSignif },
  { gene: 'NF1', groups: nf1Groups, box: nf1Box, violin: nf1Violin, points: nf1Points, signif: nf1Signif },
  { gene: 'PIK3CA', groups: pik3caGroups, box: pik3caBox, violin: pik3caViolin, points: pik3caPoints, signif: pik3caSignif },
  { gene: 'PTEN', groups: ptenGroups, box: ptenBox, violin: ptenViolin, points: ptenPoints, signif: ptenSignif },
  { gene: 'RB1', groups: rb1Groups, box: rb1Box, violin: rb1Violin, points: rb1Points, signif: rb1Signif },
  { gene: 'STK11', groups: stk11Groups, box: stk11Box, violin: stk11Violin, points: stk11Points, signif: stk11Signif },
  { gene: 'TERC', groups: tercGroups, box: tercBox, violin: tercViolin, points: tercPoints, signif: tercSignif },
  { gene: 'TERT', groups: tertGroups, box: tertBox, violin: tertViolin, points: tertPoints, signif: tertSignif }
];

// ---------- layout (pixels) ----------
// [axisX, plotTop, plotBottom, yAt(1.0), yAt(-1.0), firstCenterX, groupStep, titleX, titleY, catLabelY, xTitleY, yTitleX]
const LAYOUT = [
  [53, 40, 267, 50, 242, 99, 79, 178, 15, 276, 288, 22],
  [374, 52, 267, 61, 244, 419, 76.5, 494, 15, 276, 288, 345],
  [696, 51, 265, 60, 242, 739, 75, 814, 15, 274, 286, 668],
  [998, 51, 267, 60, 244, 1063, 109, 1117, 14, 276, 288, 967],
  [47, 368, 593, 377, 569, 91, 80, 182, 338, 603, 615, 15],
  [362, 368, 592, 377, 568, 408, 79, 496, 338, 602, 614, 332],
  [689, 378, 592, 387, 568, 733, 74.5, 807, 341, 601, 613, 657],
  [1002, 363, 582, 371, 558, 1048, 75, 1123, 337, 589, 603, 963],
  [50, 704, 942, 714, 916, 100, 82.5, 183, 678, 952, 964, 16],
  [377, 712, 945, 722, 921, 448, 119, 508, 676, 955, 967, 345],
  [713, 712, 942, 721, 917, 783, 117, 842, 676, 952, 964, 681],
  [1017, 713, 936, 720, 912, 1086, 114, 1143, 676, 945, 957, 986],
  [63, 1040, 1267, 1049, 1242, 132, 116, 190, 1009, 1275, 1287, 31],
  [360, 1040, 1268, 1050, 1244, 429, 115, 487, 1009, 1278, 1290, 327],
  [705, 1041, 1274, 1051, 1249, 780, 115, 836, 1008, 1282, 1297, 673],
  [1006, 1043, 1272, 1053, 1248, 1076, 117, 1134, 1009, 1280, 1294, 973],
  [64, 1364, 1581, 1374, 1558, 129, 111, 185, 1325, 1590, 1602, 34],
  [365, 1367, 1585, 1375, 1562, 412, 76.5, 489, 1325, 1594, 1607, 334]
];

// horizontal jitter offsets (fraction of the jitter half-width) used to spread points
const JITTER = [0.62, -0.35, 0.11, -0.88, 0.47, -0.12, 0.93, -0.6, 0.28, -0.97, 0.05, 0.74, -0.43, 0.36, -0.21, 0.85, -0.7, 0.19, -0.05, 0.58,
  -0.81, 0.4, -0.29, 0.97, -0.52, 0.14, -0.91, 0.67, -0.16, 0.31, -0.64, 0.79, -0.38, 0.02, -0.75, 0.52, -0.09, 0.88, -0.47, 0.24,
  -0.99, 0.7, -0.25, 0.43, -0.58, 0.09, -0.83, 0.6, -0.32, 0.17, 0.91, -0.67, 0.35, -0.14, 0.77, -0.44, 0.01, -0.9, 0.55, -0.2, 0.33];

const FILL = { Del: '#23446f', Neutral: '#c9c9c9', Amp: '#9b1624' };
const FONT = '"Liberation Sans", Arial, Helvetica, sans-serif';

// smooth a violin outline (Catmull-Rom through the profile knots)
function smoothProfile(prof) {
  const out = [];
  for (let k = 0; k < prof.length - 1; k++) {
    const p0 = prof[Math.max(k - 1, 0)][1], p1 = prof[k][1], p2 = prof[k + 1][1], p3 = prof[Math.min(k + 2, prof.length - 1)][1];
    for (let t = 0; t < 1; t += 0.125) {
      const t2 = t * t, t3 = t2 * t;
      const w = 0.5 * (2 * p1 + (-p0 + p2) * t + (2 * p0 - 5 * p1 + 4 * p2 - p3) * t2 + (-p0 + 3 * p1 - 3 * p2 + p3) * t3);
      out.push([prof[k][0] + (prof[k + 1][0] - prof[k][0]) * t, Math.max(0, w)]);
    }
  }
  out.push(prof[prof.length - 1]);
  return out;
}

const grid = [], xAxis = [], yAxis = [], series = [], graphic = [];

PANELS.forEach((p, i) => {
  const [ax, top, bot, y1, ym1, c0, step, tx, ty, ly, ny, yx] = LAYOUT[i];
  const n = p.groups.length;
  const unit = (ym1 - y1) / 2;
  const yMax = 1 + (y1 - top) / unit;
  const yMin = -1 - (bot - ym1) / unit;
  const left = c0 - step / 2;

  grid.push({ left: left, top: top, width: n * step, height: bot - top });

  xAxis.push({
    gridIndex: i, type: 'category', data: p.groups,
    axisLine: { show: false }, axisTick: { show: false }, splitLine: { show: false },
    axisLabel: { margin: ly - bot - 5, fontSize: 9.5, color: '#333', fontFamily: FONT },
    name: X_TITLE, nameLocation: 'middle', nameGap: ny - bot - 6,
    nameTextStyle: { fontSize: 11.5, color: '#222', fontFamily: FONT }
  });

  yAxis.push({
    gridIndex: i, type: 'value', min: yMin, max: yMax, offset: left - ax,
    axisLine: { show: true, lineStyle: { color: '#444', width: 1 } },
    axisTick: { show: false }, splitLine: { show: false },
    axisLabel: { customValues: TICK_VALUES, formatter: v => v.toFixed(1), fontSize: 9.5, color: '#4d4d4d', margin: 5, fontFamily: FONT },
    name: Y_TITLE, nameLocation: 'middle', nameRotate: 90, nameGap: ax - yx - 6,
    nameTextStyle: { fontSize: 11.5, color: '#222', fontFamily: FONT }
  });

  graphic.push({
    type: 'text', x: tx, y: ty,
    style: { text: p.gene + ' Copy Number FT:O Enrichment', font: 'bold 13.3px ' + FONT, fill: '#111', align: 'center', verticalAlign: 'middle' }
  });

  // violins
  series.push({
    type: 'custom', xAxisIndex: i, yAxisIndex: i, clip: false, z: 2, silent: true,
    data: p.groups.map((g, k) => [k, 0]), encode: { x: 0, y: 1 },
    renderItem: (params, api) => {
      const k = params.dataIndex;
      const prof = p.violin[k];
      if (!prof || prof.length < 2) return null;
      const band = api.size([1, 0])[0];
      const cx = api.coord([k, 0])[0];
      const sm = smoothProfile(prof);
      const right = sm.map(([y, w]) => [cx + w * band, api.coord([k, y])[1]]);
      const leftSide = sm.slice().reverse().map(([y, w]) => [cx - w * band, api.coord([k, y])[1]]);
      return { type: 'polygon', shape: { points: right.concat(leftSide) }, style: { fill: FILL[p.groups[k]], stroke: null } };
    }
  });

  // box and whiskers
  series.push({
    type: 'custom', xAxisIndex: i, yAxisIndex: i, clip: false, z: 3, silent: true,
    data: p.box.map((b, k) => [k].concat(b)), encode: { x: 0, y: [1, 2, 3, 4, 5] },
    renderItem: (params, api) => {
      const k = api.value(0);
      const lo = api.value(1), q1 = api.value(2), md = api.value(3), q3 = api.value(4), hi = api.value(5);
      const band = api.size([1, 0])[0];
      const hw = band * 0.15;
      const cx = api.coord([k, 0])[0];
      const Y = v => api.coord([k, v])[1];
      const lineStyle = { stroke: '#2e2e2e', lineWidth: 1 };
      return {
        type: 'group', children: [
          { type: 'line', shape: { x1: cx, y1: Y(hi), x2: cx, y2: Y(q3) }, style: lineStyle },
          { type: 'line', shape: { x1: cx, y1: Y(q1), x2: cx, y2: Y(lo) }, style: lineStyle },
          { type: 'rect', shape: { x: cx - hw, y: Y(q3), width: hw * 2, height: Math.max(Y(q1) - Y(q3), 1) }, style: { fill: '#e6e6e6', stroke: '#4a4a4a', lineWidth: 1 } },
          { type: 'line', shape: { x1: cx - hw, y1: Y(md), x2: cx + hw, y2: Y(md) }, style: { stroke: '#333', lineWidth: 1.7 } }
        ]
      };
    }
  });

  // jittered observations
  const pts = [];
  p.points.forEach((arr, k) => arr.forEach((y, j) => pts.push([k, y, (j * 7 + k * 13 + i * 5) % JITTER.length])));
  series.push({
    type: 'custom', xAxisIndex: i, yAxisIndex: i, clip: false, z: 4, silent: true,
    data: pts, encode: { x: 0, y: 1 },
    renderItem: (params, api) => {
      const k = api.value(0);
      const band = api.size([1, 0])[0];
      const pt = api.coord([k, api.value(1)]);
      return { type: 'circle', shape: { cx: pt[0] + JITTER[api.value(2)] * 0.13 * band, cy: pt[1], r: 1.15 }, style: { fill: '#262626', opacity: 0.85 } };
    }
  });

  // significance brackets
  series.push({
    type: 'custom', xAxisIndex: i, yAxisIndex: i, clip: false, z: 5, silent: true,
    data: p.signif.map(s => [s[0], s[2]]), encode: { x: 0, y: 1 },
    renderItem: (params, api) => {
      const [g1, g2, lvl, lab] = p.signif[params.dataIndex];
      const band = api.size([1, 0])[0];
      const x1 = api.coord([g1, lvl])[0] + 0.03 * band;
      const x2 = api.coord([g2, lvl])[0] - 0.03 * band;
      const y = api.coord([g1, lvl])[1];
      const tip = n === 2 ? 7 : 4;
      const star = lab.indexOf('*') >= 0;
      return {
        type: 'group', children: [
          { type: 'polyline', shape: { points: [[x1, y + tip], [x1, y], [x2, y], [x2, y + tip]] }, style: { stroke: '#1d1d2b', lineWidth: 1.4, fill: null } },
          {
            type: 'text', x: (x1 + x2) / 2, y: y + (star ? 5 : 0),
            style: { text: lab, font: 'bold ' + (star ? 24 : 18) + 'px ' + FONT, fill: '#111', align: 'center', verticalAlign: 'middle', backgroundColor: '#fff', padding: [0, 3] }
          }
        ]
      };
    }
  });
});

const chart = echarts.init(document.getElementById('chart'), null, { renderer: 'canvas' });
chart.setOption({
  animation: false,
  backgroundColor: '#ffffff',
  grid: grid, xAxis: xAxis, yAxis: yAxis, series: series, graphic: graphic
});
</script>
</body>
</html>
